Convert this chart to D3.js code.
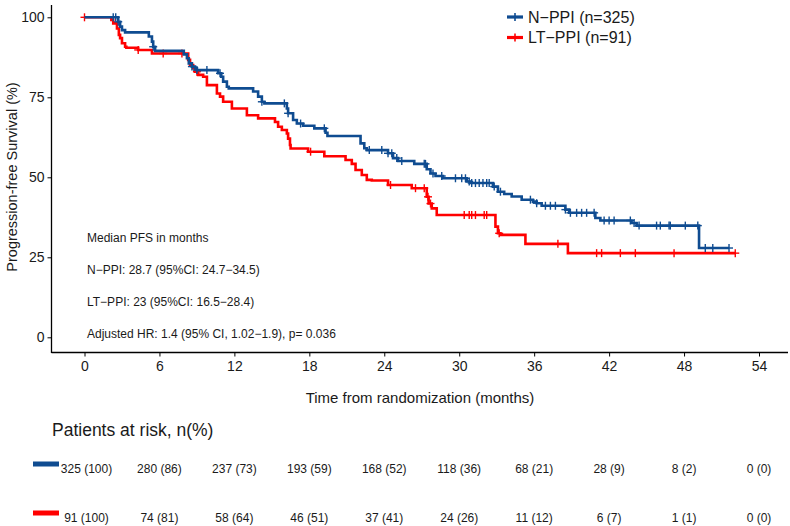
<!DOCTYPE html>
<html>
<head>
<meta charset="utf-8">
<script src="https://cdn.jsdelivr.net/npm/d3@7"></script>
<style>
  html, body { margin: 0; padding: 0; background: #fff; }
  svg { display: block; font-family: "Liberation Sans", Arial, sans-serif; }
</style>
</head>
<body>
<div id="chart"></div>
<script>
// ---------- data ----------
const seriesNames = ["N\u2212PPI (n=325)", "LT\u2212PPI (n=91)"];
const seriesColors = ["#0F4C91", "#FF0000"];

const xTicks = [0, 6, 12, 18, 24, 30, 36, 42, 48, 54];
const yTicks = [0, 25, 50, 75, 100];

// N-PPI step curve (time in months, survival %)
const blueTimes = [0, 2.7, 2.85, 3.0, 3.25, 5.15, 5.4, 5.5, 5.65, 7.95, 8.2, 8.35, 8.6, 8.85, 9.0,
  10.7, 10.95, 11.1, 11.4, 11.55, 13.5, 13.9, 14.2, 14.4, 16.2, 16.3, 16.7, 17.0, 17.5, 18.4,
  19.3, 19.45, 22.1, 22.4, 22.6, 24.3, 24.7, 25.1, 26.4, 27.4, 27.7, 28.1, 28.7, 30.6, 30.9,
  32.7, 33.1, 33.6, 34.2, 35.0, 35.9, 36.2, 36.6, 38.5, 38.8, 40.9, 41.3, 43.8, 44.2, 49.2, 51.6];
const blueSurv = [100, 98.6, 97.1, 96, 95.3, 94, 92.4, 90.8, 89.5, 88.4, 87.2, 85.6, 84.6, 84.1, 83.5,
  82.5, 81.4, 79.9, 78.3, 77.8, 76.8, 75.2, 73.6, 73.1, 71.5, 70, 67.9, 66.8, 66.1, 65.3,
  63.9, 62.9, 60.6, 59.1, 58.5, 57.5, 56, 55.1, 54.2, 52.5, 51.2, 50.4, 49.7, 48.7, 48.2,
  47.1, 45.5, 44.8, 44.0, 43.0, 42.4, 41.9, 41.1, 39.9, 38.9, 37.3, 36.5, 35.7, 34.9, 27.9, 27.9];
const blueCensor = [2.3, 2.5, 2.7, 5.5, 8.6, 9.0, 9.8, 10.85, 14.2, 16.0, 16.3, 17.3, 19.2, 22.8, 23.8,
  24.3, 24.6, 25.0, 25.4, 27.2, 27.3, 27.9, 28.6, 29.7, 30.2, 30.5, 30.8, 31.0, 31.3, 31.6, 31.9,
  32.2, 32.4, 32.8, 33.3, 35.7, 36.2, 36.9, 37.3, 37.7, 38.5, 38.9, 39.4, 39.8, 40.2, 40.8, 41.6,
  42.0, 42.4, 43.7, 44.0, 44.4, 45.8, 46.1, 46.8, 46.9, 48.1, 49.1, 49.7, 50.3, 51.6];

// LT-PPI step curve
const redTimes = [0, 2.15, 2.3, 2.6, 2.75, 2.85, 3.0, 3.25, 3.35, 4.3, 5.4, 8.3, 8.45, 8.7, 8.85, 9.1,
  9.5, 9.8, 10.6, 10.85, 11.1, 11.8, 13.0, 13.9, 15.25, 15.5, 15.8, 16.2, 16.3, 16.45, 16.5,
  17.9, 19.2, 20.9, 21.4, 21.7, 22.2, 22.6, 23.0, 24.3, 26.2, 27.4, 27.55, 27.8, 28.2, 32.9,
  33.1, 33.3, 35.3, 38.7, 52.1];
const redSurv = [100, 99.2, 98.1, 96.5, 94.5, 93.5, 91.9, 90.8, 90.5, 89.8, 88.7, 86.7, 85.1, 84.1, 83, 82,
  81.4, 78.8, 76.2, 75.2, 73.6, 71.5, 69.4, 68.4, 67.3, 65.8, 64.8, 63.7, 62.1, 60.1, 59,
  58, 56.6, 55.4, 54.2, 52.3, 50.7, 49.2, 49.0, 47.6, 46.6, 43.9, 41.8, 40.3, 38.2, 34.6,
  32.5, 32, 29.2, 26.3, 26.3];
const redCensor = [0, 4.3, 6.3, 7.8, 9.0, 18.1, 24.5, 26.5, 27.2, 27.5, 27.7, 30.4, 30.8, 31.0, 31.3,
  32.0, 32.2, 33.2, 37.9, 41.0, 41.4, 42.9, 44.1, 47.2, 52.1];

const riskBlue = ["325 (100)", "280 (86)", "237 (73)", "193 (59)", "168 (52)", "118 (36)", "68 (21)", "28 (9)", "8 (2)", "0 (0)"];
const riskRed = ["91 (100)", "74 (81)", "58 (64)", "46 (51)", "37 (41)", "24 (26)", "11 (12)", "6 (7)", "1 (1)", "0 (0)"];

const annotations = [
  "Median PFS in months",
  "N\u2212PPI: 28.7 (95%CI: 24.7\u221234.5)",
  "LT\u2212PPI: 23 (95%CI: 16.5\u221228.4)",
  "Adjusted HR: 1.4 (95% CI, 1.02\u22121.9), p= 0.036"
];

// ---------- layout ----------
const W = 790, H = 526;
const svg = d3.select("#chart").append("svg").attr("width", W).attr("height", H);

const x = d3.scaleLinear().domain([0, 54]).range([84.5, 759]);
const y = d3.scaleLinear().domain([0, 100]).range([337.3, 17.3]);
const axisLeftX = 51.5, axisBottomY = 352.5;
const axisColor = "#000";
const textColor = "#1a1a1a";

// axes
const xAxis = svg.append("g").attr("transform", `translate(0,${axisBottomY})`)
  .call(d3.axisBottom(x).tickValues(xTicks).tickSize(4).tickSizeOuter(0));
xAxis.select(".domain").remove();
xAxis.selectAll("line").attr("stroke", axisColor).attr("stroke-width", 1);
xAxis.selectAll("text").attr("font-size", 14).attr("fill", textColor).attr("dy", "0.85em")
  .attr("font-family", "Liberation Sans, Arial, sans-serif");

const yAxis = svg.append("g").attr("transform", `translate(${axisLeftX},0)`)
  .call(d3.axisLeft(y).tickValues(yTicks).tickSize(4).tickSizeOuter(0));
yAxis.select(".domain").remove();
yAxis.selectAll("line").attr("stroke", axisColor).attr("stroke-width", 1);
yAxis.selectAll("text").attr("font-size", 14).attr("fill", textColor).attr("x", -7)
  .attr("font-family", "Liberation Sans, Arial, sans-serif");

svg.append("line").attr("x1", axisLeftX).attr("x2", axisLeftX).attr("y1", 5).attr("y2", axisBottomY + 0.5)
  .attr("stroke", axisColor).attr("stroke-width", 1.3);
svg.append("line").attr("x1", axisLeftX).attr("x2", 788).attr("y1", axisBottomY).attr("y2", axisBottomY)
  .attr("stroke", axisColor).attr("stroke-width", 1.3);

// axis titles
svg.append("text").attr("x", 420).attr("y", 403).attr("text-anchor", "middle")
  .attr("font-size", 15).attr("fill", textColor).text("Time from randomization (months)");
svg.append("text").attr("transform", "translate(17,177) rotate(-90)").attr("text-anchor", "middle")
  .attr("font-size", 14.5).attr("fill", textColor).text("Progression-free Survival (%)");

// curves
const stepLine = d3.line().x(d => x(d[0])).y(d => y(d[1])).curve(d3.curveStepAfter);
function survAt(times, surv, t) {
  let i = d3.bisectRight(times, t) - 1;
  if (i < 0) i = 0;
  return surv[i];
}
function drawSeries(times, surv, censor, color) {
  const pts = times.map((t, i) => [t, surv[i]]);
  svg.append("path").datum(pts).attr("d", stepLine).attr("fill", "none")
    .attr("stroke", color).attr("stroke-width", 2.6).attr("stroke-linejoin", "miter");
  const g = svg.append("g");
  censor.forEach(t => {
    const cx = x(t), cy = y(survAt(times, surv, t));
    g.append("line").attr("x1", cx).attr("x2", cx).attr("y1", cy - 4).attr("y2", cy + 4)
      .attr("stroke", color).attr("stroke-width", 1.4);
    g.append("line").attr("x1", cx - 4).attr("x2", cx + 4).attr("y1", cy).attr("y2", cy)
      .attr("stroke", color).attr("stroke-width", 1.4);
  });
}
drawSeries(redTimes, redSurv, redCensor, seriesColors[1]);
drawSeries(blueTimes, blueSurv, blueCensor, seriesColors[0]);

// annotations
annotations.forEach((t, i) => {
  svg.append("text").attr("x", 87).attr("y", 238 + i * 32).attr("dy", "0.35em")
    .attr("font-size", 12).attr("fill", textColor).text(t);
});

// legend
seriesNames.forEach((name, i) => {
  const ly = 17 + i * 20.5;
  const g = svg.append("g");
  g.append("line").attr("x1", 507).attr("x2", 523).attr("y1", ly).attr("y2", ly)
    .attr("stroke", seriesColors[i]).attr("stroke-width", 3.2);
  g.append("line").attr("x1", 515).attr("x2", 515).attr("y1", ly - 4).attr("y2", ly + 4)
    .attr("stroke", seriesColors[i]).attr("stroke-width", 1.6);
  g.append("text").attr("x", 528).attr("y", ly).attr("dy", "0.36em")
    .attr("font-size", 16).attr("fill", textColor).text(name);
});

// risk table
svg.append("text").attr("x", 52).attr("y", 430).attr("dy", "0.36em")
  .attr("font-size", 17.5).attr("fill", textColor).text("Patients at risk, n(%)");

const riskRows = [riskBlue, riskRed];
const rowY = [469, 518];
riskRows.forEach((row, r) => {
  svg.append("rect").attr("x", 33).attr("y", rowY[r] - 7.5).attr("width", 26).attr("height", 5)
    .attr("fill", seriesColors[r]);
  row.forEach((lab, i) => {
    svg.append("text").attr("x", x(xTicks[i]) + (i === 0 ? 2 : 0)).attr("y", rowY[r]).attr("dy", "0.35em")
      .attr("text-anchor", "middle").attr("font-size", 12).attr("fill", textColor)
      .text(lab);
  });
});
</script>
</body>
</html>
